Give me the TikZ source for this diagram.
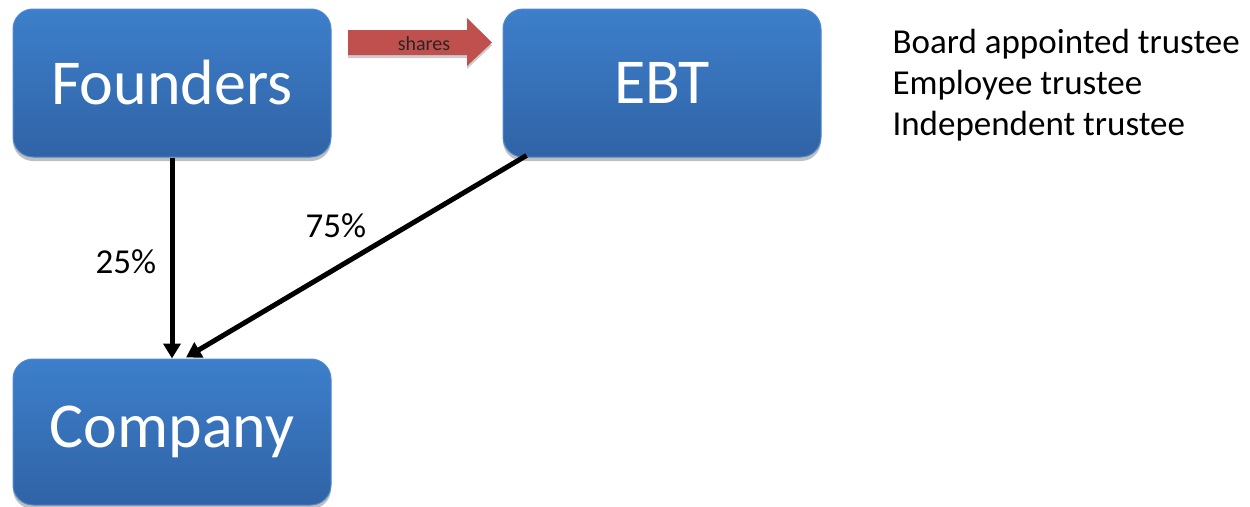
\documentclass[tikz,border=0pt]{standalone}
\usepackage{fontspec}
\setmainfont{Carlito}
\usetikzlibrary{arrows.meta,shadows}

\definecolor{boxtop}{HTML}{3D7FCB}
\definecolor{boxbot}{HTML}{3063A6}
\definecolor{boxedge}{HTML}{4F89CF}
\definecolor{sharered}{HTML}{C0504D}

\tikzset{
  entity/.style={rounded corners=20pt, top color=boxtop, bottom color=boxbot,
    draw=boxedge, line width=1pt, minimum width=318pt, text=white,
    font=\fontsize{64}{70}\selectfont,
    drop shadow={shadow xshift=0pt, shadow yshift=-4pt, opacity=0.25, fill=black}},
  owns/.style={line width=5pt, -{Triangle[length=15pt,width=17pt]}},
  pct/.style={font=\fontsize{35}{40}\selectfont, anchor=base west},
}

\begin{document}
\begin{tikzpicture}[x=1pt,y=-1pt]
  \useasboundingbox (0,0) rectangle (1250,506);

  % the three parties
  \node[entity, minimum height=148pt] (founders) at (172,83) {Founders};
  \node[entity, minimum height=148pt] (ebt) at (662,83) {EBT};
  \node[entity, minimum height=146pt] (company) at (172,432) {Company};

  % transfer of shares from founders to the trust
  \fill[sharered, drop shadow={shadow xshift=0pt, shadow yshift=-3pt, opacity=0.2, fill=black}]
    (348,30) -- (467,30) -- (467,18) -- (492,42.5) -- (467,66) -- (467,55) -- (348,55) -- cycle;
  \node[font=\fontsize{20}{22}\selectfont, text=black!85] (shares) at (424,44) {shares};

  % shareholdings
  \draw[owns] (founders.south) -- (company.north);
  \draw[owns] ([xshift=24pt,yshift=2pt]ebt.south west) -- ([xshift=14pt,yshift=1pt]company.north);
  \node[pct] (p25) at (92,273) {25\%};
  \node[pct] (p75) at (302,237) {75\%};

  % trustees of the EBT
  \node[font=\fontsize{35}{41}\selectfont, align=left, anchor=base west] (trustees) at (889,135)
    {Board appointed trustee\\Employee trustee\\Independent trustee};
\end{tikzpicture}
\end{document}
